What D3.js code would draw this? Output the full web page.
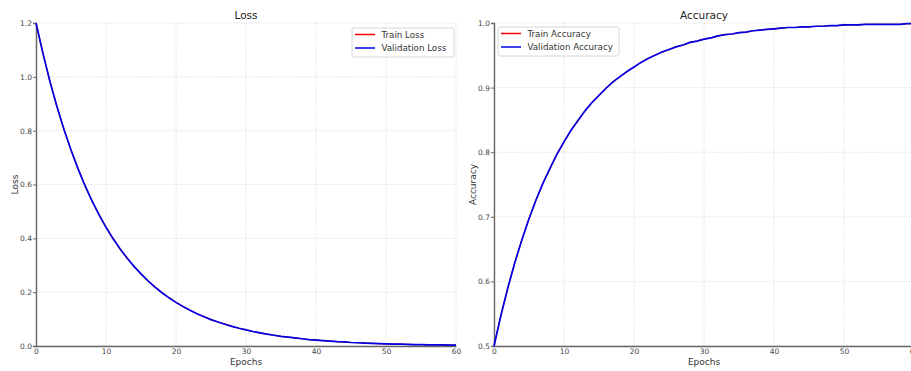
<!DOCTYPE html>
<html><head><meta charset="utf-8">
<script src="https://cdn.jsdelivr.net/npm/d3@7"></script>
<style>body{margin:0;background:#fff;}svg{display:block;font-family:"DejaVu Sans",sans-serif;}</style>
</head><body>
<svg id="c" width="911" height="371"></svg>
<script>
const epochs = d3.range(0, 61);
const valLoss = [1.200,1.086,0.982,0.889,0.804,0.728,0.659,0.596,0.539,0.488,0.441,0.399,0.361,0.327,0.296,0.268,0.242,0.219,0.198,0.179,0.162,0.147,0.133,0.120,0.109,0.098,0.089,0.081,0.073,0.066,0.060,0.054,0.049,0.044,0.040,0.036,0.033,0.030,0.027,0.024,0.022,0.020,0.018,0.016,0.015,0.013,0.012,0.011,0.010,0.009,0.008,0.007,0.007,0.006,0.005,0.005,0.004,0.004,0.004,0.003,0.003];
const trainLoss = [1.200,1.086,0.982,0.889,0.804,0.728,0.659,0.596,0.539,0.488,0.441,0.399,0.361,0.327,0.296,0.268,0.242,0.219,0.198,0.179,0.162,0.147,0.133,0.120,0.109,0.098,0.089,0.081,0.073,0.066,0.060,0.054,0.049,0.044,0.040,0.036,0.033,0.030,0.027,0.024,0.022,0.020,0.018,0.016,0.015,0.013,0.012,0.011,0.010,0.009,0.008,0.007,0.007,0.006,0.005,0.005,0.004,0.004,0.004,0.003,0.003];
const valAcc = [0.500,0.548,0.591,0.630,0.665,0.697,0.726,0.752,0.775,0.797,0.816,0.834,0.849,0.864,0.877,0.888,0.899,0.909,0.917,0.925,0.932,0.939,0.945,0.950,0.955,0.959,0.963,0.966,0.970,0.972,0.975,0.977,0.980,0.982,0.983,0.985,0.986,0.988,0.989,0.990,0.991,0.992,0.993,0.993,0.994,0.994,0.995,0.995,0.996,0.996,0.997,0.997,0.997,0.998,0.998,0.998,0.998,0.998,0.998,0.999,0.999];
const trainAcc = [0.500,0.548,0.591,0.630,0.665,0.697,0.726,0.752,0.775,0.797,0.816,0.834,0.849,0.864,0.877,0.888,0.899,0.909,0.917,0.925,0.932,0.939,0.945,0.950,0.955,0.959,0.963,0.966,0.970,0.972,0.975,0.977,0.980,0.982,0.983,0.985,0.986,0.988,0.989,0.990,0.991,0.992,0.993,0.993,0.994,0.994,0.995,0.995,0.996,0.996,0.997,0.997,0.997,0.998,0.998,0.998,0.998,0.998,0.998,0.999,0.999];
const xTicks = [0,10,20,30,40,50,60];
const lossTicks = [0.0,0.2,0.4,0.6,0.8,1.0,1.2];
const accTicks = [0.5,0.6,0.7,0.8,0.9,1.0];

const svg = d3.select("#c");
const yTop = 23, yBot = 346;

function panel(opt){
  const g = svg.append("g");
  const x = d3.scaleLinear().domain([0,60]).range([opt.x0, opt.x1]);
  const y = d3.scaleLinear().domain(opt.ydom).range([yBot, yTop]);
  // grid
  g.selectAll(".gx").data(xTicks).join("line")
    .attr("x1", d=>x(d)).attr("x2", d=>x(d)).attr("y1", yTop).attr("y2", yBot)
    .attr("stroke","#d0d0d0").attr("stroke-width",0.8).attr("stroke-dasharray","1,1.5");
  g.selectAll(".gy").data(opt.yticks).join("line")
    .attr("x1", opt.x0).attr("x2", opt.x1).attr("y1", d=>y(d)).attr("y2", d=>y(d))
    .attr("stroke","#d0d0d0").attr("stroke-width",0.8).attr("stroke-dasharray","1,1.5");
  // axes
  const xa = g.append("g").attr("transform",`translate(0,${yBot})`)
    .call(d3.axisBottom(x).tickValues(xTicks).tickSize(0).tickPadding(3).tickFormat(d3.format("d")));
  const ya = g.append("g").attr("transform",`translate(${opt.x0},0)`)
    .call(d3.axisLeft(y).tickValues(opt.yticks).tickSize(3).tickPadding(1).tickFormat(d3.format(".1f")));
  [xa,ya].forEach(a=>{
    a.select(".domain").attr("stroke","#666").attr("stroke-width",1.4);
    a.selectAll(".tick line").attr("stroke","#666");
    a.selectAll("text").attr("fill","#444").attr("font-size",7.5).attr("font-family","DejaVu Sans");
  });
  // lines
  const line = d3.line().x((d,i)=>x(epochs[i])).y(d=>y(d));
  g.append("path").datum(opt.train).attr("d",line).attr("fill","none").attr("stroke","#ff0000").attr("stroke-width",1.2);
  g.append("path").datum(opt.val).attr("d",line).attr("fill","none").attr("stroke","#0000e6").attr("stroke-width",1.7);
  // titles
  const cx = (opt.x0+opt.x1)/2;
  g.append("text").attr("x",cx).attr("y",19).attr("text-anchor","middle").attr("font-size",10.5).attr("fill","#222").text(opt.title);
  g.append("text").attr("x",cx).attr("y",365).attr("text-anchor","middle").attr("font-size",9).attr("fill","#333").text("Epochs");
  g.append("text").attr("transform",`translate(${opt.x0-18},${(yTop+yBot)/2}) rotate(-90)`)
    .attr("text-anchor","middle").attr("font-size",9).attr("fill","#333").text(opt.ylabel);
  // legend
  const L = g.append("g").attr("transform",`translate(${opt.lx},${opt.ly})`);
  L.append("rect").attr("x",0).attr("y",0).attr("width",opt.lw).attr("height",29).attr("rx",2)
    .attr("fill","#fff").attr("fill-opacity",0.85).attr("stroke","#ccc").attr("stroke-width",0.8);
  const items = [["#ff0000",opt.names[0]],["#0000e6",opt.names[1]]];
  items.forEach((it,i)=>{
    const yy = 6.5 + i*13.5;
    L.append("line").attr("x1",3).attr("x2",23).attr("y1",yy).attr("y2",yy).attr("stroke",it[0]).attr("stroke-width",1.5);
    L.append("text").attr("x",29.5).attr("y",yy+3.2).attr("font-size",8.7).attr("fill","#333").text(it[1]);
  });
}

panel({x0:36,x1:456,ydom:[0,1.2],yticks:lossTicks,train:trainLoss,val:valLoss,title:"Loss",ylabel:"Loss",
  names:["Train Loss","Validation Loss"],lx:352,ly:28,lw:102});
panel({x0:494,x1:914,ydom:[0.5,1.0],yticks:accTicks,train:trainAcc,val:valAcc,title:"Accuracy",ylabel:"Accuracy",
  names:["Train Accuracy","Validation Accuracy"],lx:498,ly:27,lw:121});
</script>
</body></html>
